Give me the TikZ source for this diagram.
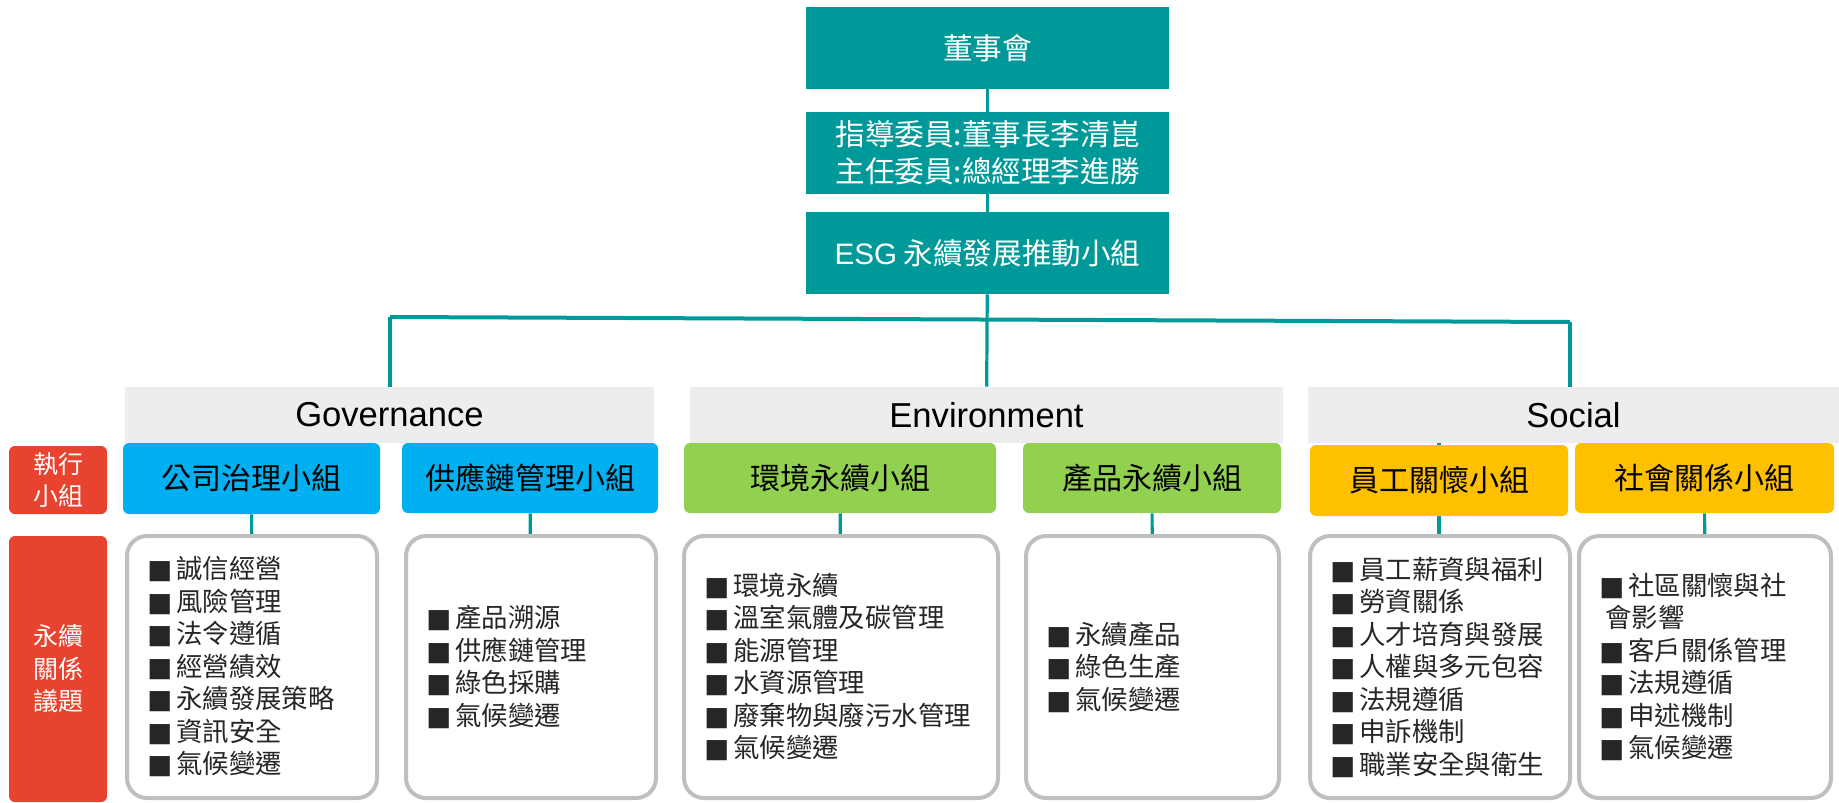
\documentclass[tikz,border=0pt]{standalone}
\usepackage{fontspec}
\setmainfont{Noto Sans CJK TC}
\newfontfamily\lat{Liberation Sans}
\newfontfamily\dvs{DejaVu Sans}
\usetikzlibrary{backgrounds}
\definecolor{tealc}{HTML}{009999}
\definecolor{bluec}{HTML}{00B0F0}
\definecolor{greenc}{HTML}{92D050}
\definecolor{yellowc}{HTML}{FFC000}
\definecolor{redc}{HTML}{E8432F}
\definecolor{grayc}{HTML}{EDEDED}
\definecolor{bordc}{HTML}{BFBFBF}
\newcommand\bsq{{\dvs ■}\hspace{0.15em}}
\tikzset{
  topbox/.style={fill=tealc, text=white, inner sep=0pt, minimum width=181.5pt, minimum height=41pt, align=center, font=\fontsize{14.8}{18.3}\selectfont},
  catbar/.style={fill=grayc, inner sep=0pt, minimum height=28pt, font=\lat\fontsize{17.3}{20}\selectfont},
  grp/.style={rounded corners=3pt, inner sep=0pt, font=\fontsize{15}{18}\selectfont},
  lbl/.style={fill=redc, text=white, rounded corners=3pt, inner sep=0pt, minimum width=49pt, align=center, font=\fontsize{12.5}{16.25}\selectfont},
  issue/.style={draw=bordc, line width=2pt, fill=white, rounded corners=10pt, inner sep=0pt, minimum height=131pt},
  items/.style={anchor=west, align=left, inner sep=0pt, text=black!85, font=\fontsize{13.2}{16.25}\selectfont},
  conn/.style={draw=tealc, line width=1.6pt},
}
\begin{document}
\begin{tikzpicture}[x=0.5pt, y=-0.5pt]
\useasboundingbox (0,0) rectangle (1839,802);
% top chain
\node[topbox] (board) at (987.5,48) {董事會};
\node[topbox] (guide) at (987.5,153) {指導委員:董事長李清崑\\主任委員:總經理李進勝};
\node[topbox] (esg) at (987.5,253) {{\lat ESG} 永續發展推動小組};
% category bars
\node[catbar, minimum width=264.5pt] (gov) at (389.5,415) {Governance};
\node[catbar, minimum width=296.5pt] (env) at (986.5,415) {Environment};
\node[catbar, minimum width=265.5pt] (soc) at (1573.5,415) {Social};
% red labels
\node[lbl, minimum height=34pt] (r1) at (58,480) {執行\\小組};
\node[lbl, minimum height=133pt] (r2) at (58,669) {永續\\關係\\議題};
% group boxes
\node[grp, fill=bluec, minimum width=128.5pt, minimum height=35.5pt] (b1) at (251.5,478.5) {公司治理小組};
\node[grp, fill=bluec, minimum width=128pt, minimum height=35pt] (b2) at (530,478) {供應鏈管理小組};
\node[grp, fill=greenc, minimum width=156pt, minimum height=35pt] (g1) at (840,478) {環境永續小組};
\node[grp, fill=greenc, minimum width=129pt, minimum height=35pt] (g2) at (1152,478) {產品永續小組};
\node[grp, fill=yellowc, minimum width=129pt, minimum height=35.5pt] (y1) at (1439,480.5) {員工關懷小組};
\node[grp, fill=yellowc, minimum width=129.5pt, minimum height=35pt] (y2) at (1704.5,478) {社會關係小組};
% issue boxes
\node[issue, minimum width=125pt] (w1) at (252,667) {};
\node[issue, minimum width=125pt] (w2) at (531,667) {};
\node[issue, minimum width=157pt] (w3) at (841,667) {};
\node[issue, minimum width=126.5pt] (w4) at (1152.5,667) {};
\node[issue, minimum width=130pt] (w5) at (1440,667) {};
\node[issue, minimum width=126pt] (w6) at (1705,667) {};
\node[items] (t1) at ([xshift=11pt]w1.west) {\bsq 誠信經營\\\bsq 風險管理\\\bsq 法令遵循\\\bsq 經營績效\\\bsq 永續發展策略\\\bsq 資訊安全\\\bsq 氣候變遷};
\node[items] (t2) at ([xshift=11pt]w2.west) {\bsq 產品溯源\\\bsq 供應鏈管理\\\bsq 綠色採購\\\bsq 氣候變遷};
\node[items] (t3) at ([xshift=11pt]w3.west) {\bsq 環境永續\\\bsq 溫室氣體及碳管理\\\bsq 能源管理\\\bsq 水資源管理\\\bsq 廢棄物與廢污水管理\\\bsq 氣候變遷};
\node[items] (t4) at ([xshift=11pt]w4.west) {\bsq 永續產品\\\bsq 綠色生產\\\bsq 氣候變遷};
\node[items] (t5) at ([xshift=11pt]w5.west) {\bsq 員工薪資與福利\\\bsq 勞資關係\\\bsq 人才培育與發展\\\bsq 人權與多元包容\\\bsq 法規遵循\\\bsq 申訴機制\\\bsq 職業安全與衛生};
\node[items] (t6) at ([xshift=11pt]w6.west) {\bsq 社區關懷與社\\\hspace*{3pt}會影響\\\bsq 客戶關係管理\\\bsq 法規遵循\\\bsq 申述機制\\\bsq 氣候變遷};
% connectors
\coordinate (hl) at (390,317);
\coordinate (hr) at (1570,322);
\begin{scope}[on background layer]
\draw[conn] (board) -- (guide);
\draw[conn] (guide) -- (esg);
\draw[conn] (esg) -- (env);
\draw[conn] (hl) -- (hl |- gov.north);
\draw[conn, line width=2pt] (hl) -- (hr);
\draw[conn] (hr) -- (hr |- soc.north);
\draw[conn] (b1) -- (w1);
\draw[conn] (b2) -- (w2);
\draw[conn] (g1) -- (w3);
\draw[conn] (g2) -- (w4);
\draw[conn] (y1 |- soc.south) -- (y1 |- w5.north);
\draw[conn] (y2) -- (w6);
\end{scope}
\end{tikzpicture}
\end{document}
